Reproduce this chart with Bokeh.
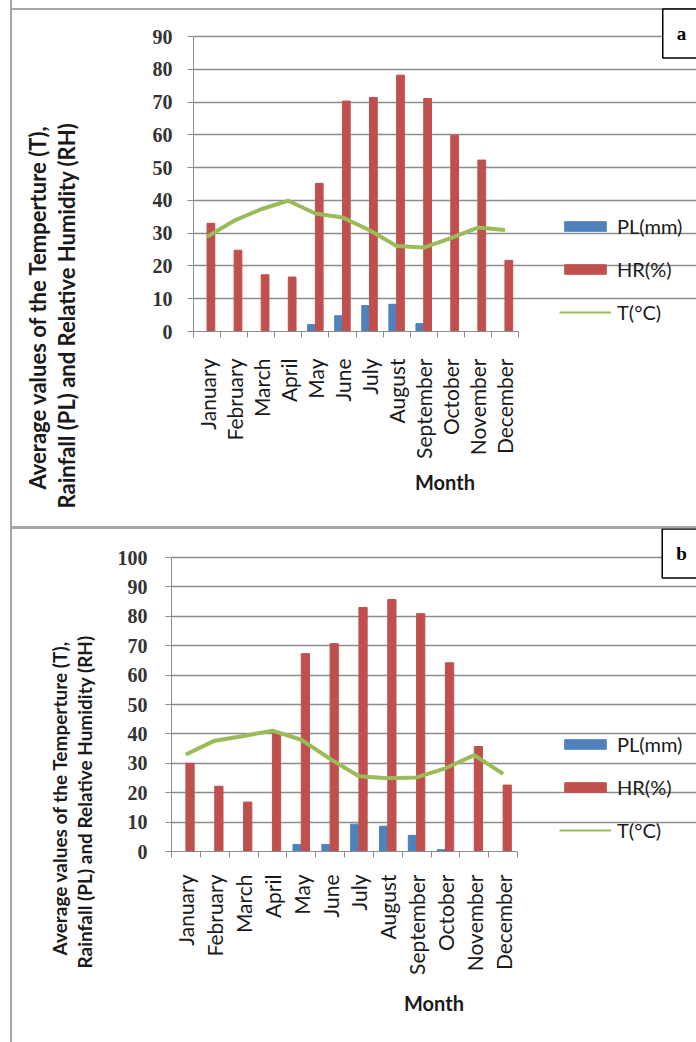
import numpy as np
from bokeh.plotting import figure
from bokeh.models import (Range1d, LinearAxis, FixedTicker, CustomJSTickFormatter,
                          Legend, LegendItem, Label, Title, ColumnDataSource)
from bokeh.transform import dodge
from bokeh.embed import file_html
from bokeh.resources import INLINE

months = ["January", "February", "March", "April", "May", "June", "July",
          "August", "September", "October", "November", "December"]

# Panel a
pl_a = [0, 0, 0, 0, 2.1, 4.8, 7.9, 8.3, 2.4, 0, 0, 0]
hr_a = [33.0, 24.8, 17.3, 16.6, 45.2, 70.3, 71.4, 78.2, 71.1, 59.9, 52.3, 21.7]
t_a = [28.9, 33.8, 37.3, 39.9, 36.0, 34.8, 30.9, 26.1, 25.6, 28.5, 31.7, 31.0]

# Panel b
pl_b = [0, 0, 0, 0, 2.4, 2.4, 9.3, 8.6, 5.5, 0.6, 0, 0]
hr_b = [30.0, 22.2, 16.8, 40.2, 67.3, 70.7, 83.0, 85.7, 80.9, 64.2, 35.7, 22.6]
t_b = [33.0, 37.7, 39.3, 41.1, 38.0, 31.5, 25.6, 24.9, 25.2, 28.3, 32.8, 26.4]

y_ticks_a = list(range(0, 91, 10))
y_ticks_b = list(range(0, 101, 10))

title_line1 = "Average values of the Temperture (T),"
title_line2 = "Rainfall (PL) and Relative Humidity (RH)"
series_names = ["PL(mm)", "HR(%)", "T(°C)"]

BLUE = "#4F81BD"
RED = "#C0504D"
GREEN = "#9BBB59"
GRID = "#8c8c8c"
SANS = "Lato"
W = 696

centres = [i + 0.5 for i in range(len(months))]
bounds = list(range(len(months) + 1))


def make_panel(tag, pl, hr, t, yticks, height, fl, fr, ftop, fbot, ytick_standoff,
               title_size, spacer, title_offsets, lab_standoff, month_standoff,
               legend_loc, tag_y, shadow):
    n = len(months)
    ymax = yticks[-1]
    # frame spans from fl to the right edge and from the top edge to fbot;
    # the chart area itself is [fl, fr] x [ftop, fbot]
    x_end = n * (W - fl) / (fr - fl)
    y_end = ymax + ftop * ymax / (fbot - ftop)
    src = ColumnDataSource(dict(x=centres, month=months, pl=pl, hr=hr, t=t))
    p = figure(x_range=Range1d(0, x_end), y_range=Range1d(0, y_end),
               width=W, height=height, output_backend="svg", toolbar_location=None,
               x_axis_location=None, y_axis_location="left",
               min_border_left=fl, min_border_right=0,
               min_border_top=0, min_border_bottom=height - fbot)
    p.outline_line_color = None
    p.background_fill_color = None
    p.border_fill_color = None
    p.styles = {"box-shadow": shadow}
    p.xgrid.grid_line_color = None

    yax = p.yaxis[0]
    yax.bounds = (0, ymax)
    yax.ticker = FixedTicker(ticks=yticks)
    yax.major_label_text_font = "Liberation Serif"
    yax.major_label_text_font_style = "bold"
    yax.major_label_text_font_size = "20px"
    yax.major_label_text_color = "#333333"
    yax.major_tick_out = 6
    yax.major_tick_in = 0
    yax.minor_tick_line_color = None
    yax.axis_line_color = GRID
    yax.major_tick_line_color = GRID
    yax.major_label_standoff = ytick_standoff
    # blank gap between the tick labels and the two-line axis title
    yax.axis_label = " "
    yax.axis_label_text_font_size = "1px"
    yax.axis_label_standoff = spacer

    p.ygrid.ticker = FixedTicker(ticks=yticks)
    p.ygrid.bounds = (0, n)
    p.ygrid.grid_line_color = GRID
    p.ygrid.grid_line_width = 1.5

    # y-axis title, two lines
    for txt, off in [(title_line2, title_offsets[1]), (title_line1, title_offsets[0])]:
        p.add_layout(Title(text=txt, align="left", offset=off, standoff=0,
                           vertical_align="bottom", text_font=SANS, text_font_style="bold",
                           text_font_size=title_size, text_color="#1a1a1a",
                           text_line_height=1.0), "left")

    xax = LinearAxis(ticker=FixedTicker(ticks=centres, minor_ticks=bounds), bounds=(0, n),
                     formatter=CustomJSTickFormatter(args=dict(labels=months),
                                                     code="return labels[Math.floor(tick)] || '';"),
                     axis_line_color=GRID, major_tick_line_color=None,
                     minor_tick_line_color=GRID, major_tick_out=0, major_tick_in=0,
                     minor_tick_out=6, minor_tick_in=0,
                     major_label_orientation=np.pi / 2,
                     major_label_text_font=SANS, major_label_text_font_size="21px",
                     major_label_text_color="#1a1a1a", major_label_standoff=lab_standoff,
                     axis_label="Month", axis_label_text_font=SANS,
                     axis_label_text_font_style="bold", axis_label_text_font_size="20px",
                     axis_label_text_color="#1a1a1a", axis_label_standoff=month_standoff)
    p.add_layout(xax, "below")

    r_pl = p.vbar(x=dodge("x", -0.143), top="pl", width=0.286, source=src, color=BLUE)
    r_hr = p.vbar(x=dodge("x", 0.143), top="hr", width=0.286, source=src, color=RED)
    r_tl = p.line(x="x", y="t", source=src, color=GREEN, line_width=2)
    p.line(x="x", y="t", source=src, color=GREEN, line_width=4, line_join="round")

    legend = Legend(items=[LegendItem(label=series_names[0], renderers=[r_pl]),
                           LegendItem(label=series_names[1], renderers=[r_hr]),
                           LegendItem(label=series_names[2], renderers=[r_tl])],
                    location=legend_loc, orientation="vertical",
                    label_text_font=SANS, label_text_font_size="20px", label_text_color="#1a1a1a",
                    glyph_width=52, glyph_height=12, label_height=24, spacing=19,
                    padding=0, margin=0, label_standoff=6,
                    border_line_color=None, background_fill_alpha=0)
    p.add_layout(legend, "center")

    # panel tag box
    p.add_layout(Label(x=681, y=tag_y, x_units="canvas", y_units="canvas", text=tag,
                       text_align="center", text_baseline="middle",
                       text_font="Liberation Serif", text_font_style="bold",
                       text_font_size="19px", text_color="black",
                       padding=14, border_line_color="black", border_line_width=1.5,
                       background_fill_color="white"))
    return p


shadow_a = ("inset 10px 0 0 0 #ffffff, inset 12px 0 0 0 #a6a6a6, "
            "inset 0 8px 0 0 #ffffff, inset 0 10px 0 0 #a6a6a6, inset 0 -2px 0 0 #a6a6a6")
shadow_b = ("inset 10px 0 0 0 #ffffff, inset 12px 0 0 0 #a6a6a6, inset 0 1px 0 0 #a6a6a6")

pa = make_panel("a", pl_a, hr_a, t_a, y_ticks_a, 528, 193, 518, 36, 331, 15,
                "22px", 66, (-158, -177), 21, 8, (366, 7), 33, shadow_a)
pb = make_panel("b", pl_b, hr_b, t_b, y_ticks_b, 514, 171, 517, 29, 323, 18,
                "19px", 15, (-104, -117), 17, 13, (388, 9), 25, shadow_b)

open("out.html", "w").write(file_html([pa, pb], INLINE))
